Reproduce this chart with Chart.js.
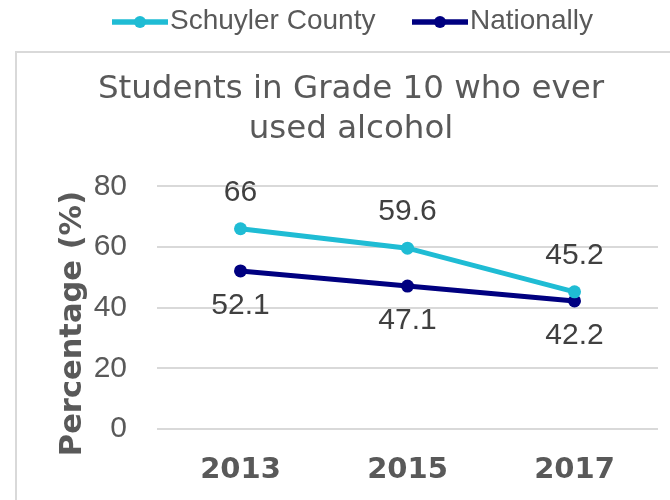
<!DOCTYPE html>
<html>
<head>
<meta charset="utf-8">
<script src="https://cdn.jsdelivr.net/npm/chart.js@4/dist/chart.umd.min.js"></script>
<style>
  html, body { margin: 0; padding: 0; background: #ffffff; }
  #wrap { width: 670px; height: 500px; position: relative; }
</style>
</head>
<body>
<div id="wrap"><canvas id="c" width="670" height="500"></canvas></div>
<script>
const categories = ['2013', '2015', '2017'];
const schuylerValues = [66, 59.6, 45.2];
const nationalValues = [52.1, 47.1, 42.2];
const seriesNames = ['Schuyler County', 'Nationally'];
const yTicks = [0, 20, 40, 60, 80];
const titleLines = ['Students in Grade 10 who ever', 'used alcohol'];
const yAxisTitle = 'Percentage (%)';

const CYAN = '#1FBCD4';
const NAVY = '#000080';
const GREY_TEXT = '#595959';
const GRID = '#d9d9d9';

const framePlugin = {
  id: 'frame',
  beforeDraw(chart) {
    const ctx = chart.ctx;
    ctx.save();
    ctx.fillStyle = '#ffffff';
    ctx.fillRect(0, 0, chart.width, chart.height);
    ctx.strokeStyle = GRID;
    ctx.lineWidth = 2;
    ctx.strokeRect(16, 52, chart.width + 50, chart.height + 50);
    ctx.restore();
  }
};

const legendPlugin = {
  id: 'customLegend',
  afterDraw(chart) {
    const ctx = chart.ctx;
    const items = [
      { x: 112, ds: chart.data.datasets[0] },
      { x: 412, ds: chart.data.datasets[1] }
    ];
    ctx.save();
    items.forEach(it => {
      const y = 22;
      ctx.strokeStyle = it.ds.borderColor;
      ctx.lineWidth = 5.5;
      ctx.beginPath();
      ctx.moveTo(it.x, y);
      ctx.lineTo(it.x + 56, y);
      ctx.stroke();
      ctx.fillStyle = it.ds.borderColor;
      ctx.beginPath();
      ctx.arc(it.x + 28, y, 6, 0, Math.PI * 2);
      ctx.fill();
      ctx.fillStyle = GREY_TEXT;
      ctx.font = '28px "Liberation Sans", Arial, sans-serif';
      ctx.textAlign = 'left';
      ctx.textBaseline = 'middle';
      ctx.fillText(it.ds.label, it.x + 58, y - 1);
    });
    ctx.restore();
  }
};

const dataLabelPlugin = {
  id: 'dataLabels',
  afterDatasetsDraw(chart) {
    const ctx = chart.ctx;
    ctx.save();
    ctx.font = '30px "Liberation Sans", Arial, sans-serif';
    ctx.fillStyle = '#404040';
    ctx.textAlign = 'center';
    ctx.textBaseline = 'middle';
    chart.data.datasets.forEach((ds, di) => {
      const meta = chart.getDatasetMeta(di);
      meta.data.forEach((pt, i) => {
        const off = di === 0 ? -36 : 35;
        ctx.fillText(String(ds.data[i]), pt.x, pt.y + off);
      });
    });
    ctx.restore();
  }
};

new Chart(document.getElementById('c'), {
  type: 'line',
  data: {
    labels: categories,
    datasets: [
      {
        label: seriesNames[0],
        data: schuylerValues,
        borderColor: CYAN,
        backgroundColor: CYAN,
        borderWidth: 5,
        pointRadius: 6.5,
        pointBackgroundColor: CYAN,
        pointBorderWidth: 0,
        tension: 0
      },
      {
        label: seriesNames[1],
        data: nationalValues,
        borderColor: NAVY,
        backgroundColor: NAVY,
        borderWidth: 5,
        pointRadius: 6.5,
        pointBackgroundColor: NAVY,
        pointBorderWidth: 0,
        tension: 0
      }
    ]
  },
  options: {
    responsive: false,
    animation: false,
    devicePixelRatio: 1,
    layout: { padding: { left: 44, right: 12, top: 52, bottom: 14 } },
    plugins: {
      legend: { display: false },
      tooltip: { enabled: false },
      title: {
        display: true,
        text: titleLines,
        color: GREY_TEXT,
        font: { family: '"DejaVu Sans", Verdana, sans-serif', size: 32.5, weight: 'normal', lineHeight: 1.25 },
        padding: { top: 17, bottom: 36 }
      }
    },
    scales: {
      x: {
        offset: true,
        grid: { display: false, drawTicks: false },
        border: { display: false },
        afterFit(scale) { scale.height = 57; },
        ticks: {
          color: GREY_TEXT,
          padding: 24,
          font: { family: '"DejaVu Sans", Verdana, sans-serif', size: 29, weight: 'bold' }
        }
      },
      y: {
        min: 0,
        max: 80,
        afterBuildTicks(scale) { scale.ticks = yTicks.map(v => ({ value: v })); },
        afterFit(scale) { scale.width = 113; },
        grid: { color: GRID, lineWidth: 2, drawTicks: false },
        border: { display: false },
        ticks: {
          color: GREY_TEXT,
          padding: 30,
          font: { family: '"Liberation Sans", Arial, sans-serif', size: 30 }
        },
        title: {
          display: true,
          text: yAxisTitle + '   ',
          color: GREY_TEXT,
          padding: { top: 11, bottom: 0 },
          font: { family: '"DejaVu Sans", Verdana, sans-serif', size: 30.5, weight: 'bold' }
        }
      }
    }
  },
  plugins: [framePlugin, legendPlugin, dataLabelPlugin]
});
</script>
</body>
</html>
